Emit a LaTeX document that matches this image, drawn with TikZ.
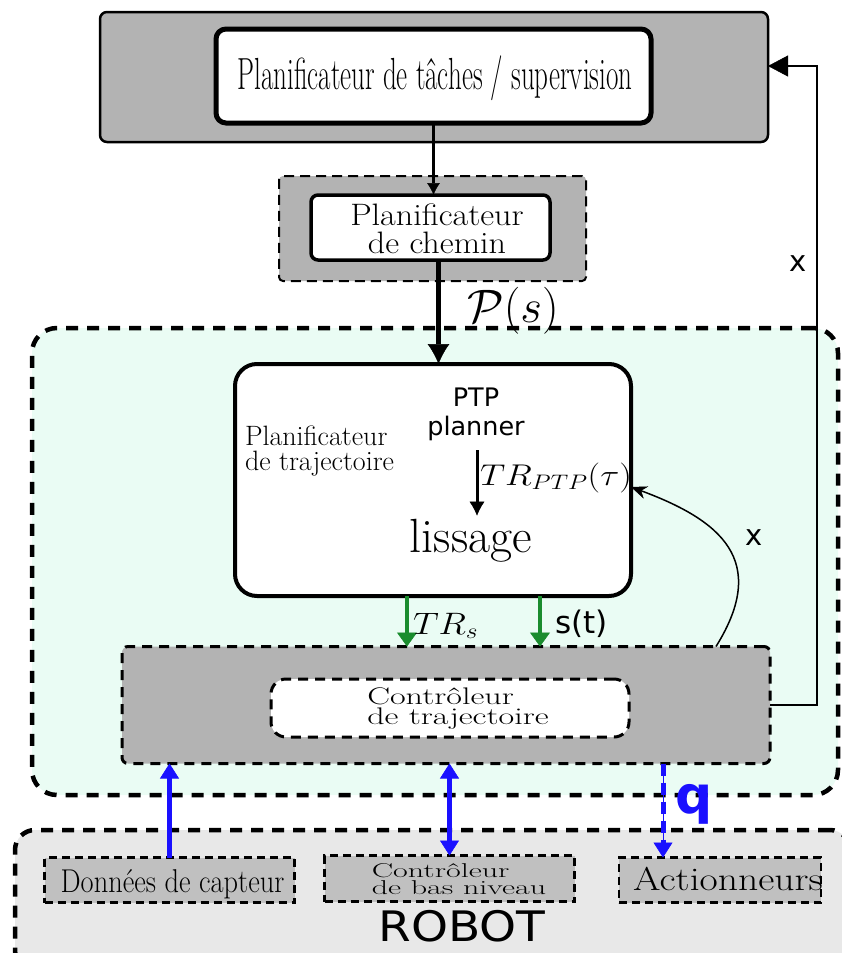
\RequirePackage{fix-cm}
\documentclass[tikz,border=0pt]{standalone}
\usepackage{fontspec}
\newfontfamily\dejavu{DejaVu Sans}
\usetikzlibrary{arrows.meta}
\definecolor{boxgray}{HTML}{B3B3B3}
\definecolor{smallgray}{HTML}{C0C0C0}
\definecolor{robotbg}{HTML}{E8E8E8}
\definecolor{mint}{HTML}{EAFCF4}
\definecolor{arrgreen}{HTML}{1A8C2E}
\definecolor{arrblue}{HTML}{1A10FF}
\begin{document}
\begin{tikzpicture}[x=1pt,y=-1pt,
  box/.style={rectangle, inner sep=0pt, outer sep=0pt},
  bigdash/.style={draw=black, line width=4.5pt, dash pattern=on 12pt off 9pt},
  middash/.style={draw=black, line width=3pt, dash pattern=on 10pt off 7pt},
  smalldash/.style={draw=black, line width=2.5pt, dash pattern=on 8pt off 5pt},
  txt/.style={inner sep=0pt, outer sep=0pt},
  greenarr/.style={draw=arrgreen, line width=3.5pt, -{Triangle[length=14pt,width=20pt,line width=0.6pt,fill=arrgreen]}},
  bluearr/.style={draw=arrblue, line width=5pt},
  bluetip/.tip={Triangle[length=15pt,width=19pt,line width=0.6pt,fill=arrblue]}
]
\useasboundingbox (0,0) rectangle (841,953);

% regions
\node[box, minimum width=806pt, minimum height=467pt, fill=mint, bigdash, rounded corners=25pt] (trajzone) at (435,561.5) {};
\node[box, minimum width=835pt, minimum height=140pt, fill=robotbg, bigdash, rounded corners=20pt] (robot) at (432.5,900) {};

% task planner
\node[box, minimum width=668pt, minimum height=130pt, fill=boxgray, draw=black, line width=2.5pt, rounded corners=7pt] (topouter) at (434,77) {};
\node[box, minimum width=435pt, minimum height=94pt, fill=white, draw=black, line width=5pt, rounded corners=10pt] (topinner) at (433.5,76) {};
\begin{scope}[shift={(435,89)}, xscale=0.6]
\node[txt, transform shape, anchor=base, font=\fontsize{45}{45}\selectfont] (titletext) at (0,0) {Planificateur de tâches / supervision};
\end{scope}

% path planner
\node[box, minimum width=307pt, minimum height=105pt, fill=boxgray, draw=black, line width=2pt, dash pattern=on 10pt off 6pt, rounded corners=4pt] (pathouter) at (432.5,228.5) {};
\node[box, minimum width=239pt, minimum height=65pt, fill=white, draw=black, line width=3.5pt, rounded corners=7pt] (pathinner) at (430.5,227.5) {};
\begin{scope}[shift={(437,229)}, xscale=1.1]
\node[txt, transform shape, align=center, font=\fontsize{31}{28}\selectfont] (pathtext) at (0,0) {Planificateur\\de chemin};
\end{scope}

% trajectory planner
\node[box, minimum width=396pt, minimum height=232pt, fill=white, draw=black, line width=4pt, rounded corners=22pt] (traj) at (433,480) {};
\node[txt, anchor=west, align=left, font=\fontsize{28}{25}\selectfont] (trajtext) at (245,451) {Planificateur\\de trajectoire};
\node[txt, align=center, font=\dejavu\fontsize{25.5}{29}\selectfont] (ptp) at (476,414) {PTP\\planner};
\node[txt, anchor=base, font=\fontsize{48}{48}\selectfont] (lissage) at (471,552) {lissage};
\begin{scope}[shift={(480,485)}, xscale=1.18]
\node[txt, transform shape, anchor=base west, font=\fontsize{30}{30}\selectfont] (trptp) at (0,0) {$TR_{PTP}(\tau)$};
\end{scope}

% trajectory controller
\node[box, minimum width=648pt, minimum height=117pt, fill=boxgray, middash, rounded corners=6pt] (ctrl) at (446,705) {};
\node[box, minimum width=358pt, minimum height=58pt, fill=white, middash, rounded corners=15pt] (ctrlin) at (450,708) {};
\begin{scope}[shift={(458,709)}, xscale=1.42]
\node[txt, transform shape, align=left, font=\fontsize{24}{20}\selectfont] (ctrltext) at (0,0) {Contrôleur\\de trajectoire};
\end{scope}

% robot boxes
\node[box, minimum width=250pt, minimum height=45pt, fill=smallgray, smalldash] (capteur) at (169.5,880) {};
\node[box, minimum width=250pt, minimum height=46pt, fill=smallgray, smalldash] (lowctrl) at (449.5,878.5) {};
\node[box, minimum width=202pt, minimum height=45pt, fill=smallgray, smalldash] (act) at (720,880) {};
\begin{scope}[shift={(172.5,892)}, xscale=0.86]
\node[txt, transform shape, anchor=base, font=\fontsize{33}{33}\selectfont] (captext) at (0,0) {Données de capteur};
\end{scope}
\begin{scope}[shift={(459,879)}, xscale=1.6]
\node[txt, transform shape, align=left, font=\fontsize{20}{17.5}\selectfont] (lowtext) at (0,0) {Contrôleur\\de bas niveau};
\end{scope}
\begin{scope}[shift={(728,890)}, xscale=1.2]
\node[txt, transform shape, anchor=base, font=\fontsize{33}{33}\selectfont] (acttext) at (0,0) {Actionneurs};
\end{scope}
\begin{scope}[shift={(462,941)}, xscale=1.12]
\node[txt, transform shape, anchor=base, font=\dejavu\fontsize{42}{42}\selectfont] (robottext) at (0,0) {ROBOT};
\end{scope}

% black connectors
\draw[line width=3pt, -{Latex[length=12pt,width=13pt,line width=0.5pt]}] (topinner.south) -- (topinner.south |- pathinner.north);
\draw[line width=5pt, -{Latex[length=20pt,width=22pt,line width=0.5pt]}] ([xshift=8pt]pathinner.south) -- ([xshift=8pt]pathinner.south |- traj.north);
\node[txt, anchor=base, font=\fontsize{47}{47}\selectfont] (ps) at (513,322) {$\mathcal{P}(s)$};
\draw[line width=3pt, -{Latex[length=14pt,width=15pt,line width=0.5pt]}, shorten >=3pt] ([xshift=1pt,yshift=-10pt]ptp.south) -- ([xshift=1pt]ptp.south |- lissage.north);

% green connectors
\draw[greenarr] ([xshift=-26pt]traj.south) -- ([xshift=-26pt]traj.south |- ctrl.north);
\draw[greenarr] ([xshift=107pt]traj.south) -- ([xshift=107pt]traj.south |- ctrl.north);
\begin{scope}[shift={(413,634)}, xscale=1.17]
\node[txt, transform shape, anchor=base west, font=\fontsize{31}{31}\selectfont] (trs) at (0,0) {$TR_s$};
\end{scope}
\node[txt, anchor=base west, font=\dejavu\fontsize{31}{31}\selectfont] (st) at (555,633) {s(t)};

% feedback x
\draw[line width=1.5pt, -{Stealth[length=16pt,width=13pt,line width=0.5pt]}] ([xshift=270pt]ctrl.north) .. controls (770,560) and (720,520) .. ([yshift=-7pt]traj.east);
\node[txt, font=\dejavu\fontsize{29}{29}\selectfont] (xlab1) at (754,538) {x};
\draw[line width=2.5pt, -{Triangle[length=20pt,width=21pt,line width=0.5pt]}] (ctrl.east) -- ++(47,0) |- ([yshift=11pt]topouter.east);
\node[txt, font=\dejavu\fontsize{29}{29}\selectfont] (xlab2) at (798,264) {x};

% blue connectors
\draw[bluearr, -bluetip] (capteur.north) -- (capteur.north |- ctrl.south);
\draw[bluearr, bluetip-bluetip] (lowctrl.north) -- (lowctrl.north |- ctrl.south);
\draw[arrblue, line width=1pt, -bluetip] ([xshift=-57pt]act.north |- ctrl.south) -- ([xshift=-57pt]act.north);
\draw[arrblue, line width=5pt, dash pattern=on 12pt off 7pt] ([xshift=-57pt]act.north |- ctrl.south) -- ([xshift=-57pt,yshift=14pt]act.north);
\node[txt, anchor=base, text=arrblue, font=\dejavu\bfseries\fontsize{52}{52}\selectfont] (qlab) at (694,813) {q};
\end{tikzpicture}
\end{document}
